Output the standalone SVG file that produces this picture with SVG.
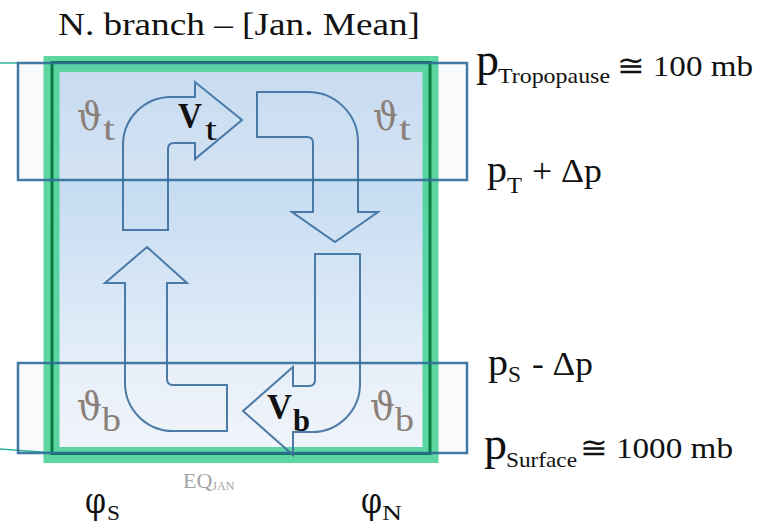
<svg xmlns="http://www.w3.org/2000/svg" width="758" height="526" viewBox="0 0 758 526">
<defs>
<linearGradient id="bg" x1="0" y1="72" x2="0" y2="447" gradientUnits="userSpaceOnUse">
<stop offset="0" stop-color="#b4d1ee"/>
<stop offset="1" stop-color="#f1f6fc"/>
</linearGradient>
</defs>
<style>
text{font-family:"Liberation Serif","DejaVu Serif",serif;}
.gr{font-family:"DejaVu Serif","Liberation Serif",serif;}
.lat{font-family:"Liberation Serif","DejaVu Serif",serif;}
.blk{fill:#111111;}
.th{fill:#8a8079;}
.arrow{fill:none;stroke:#3b6e9f;stroke-width:2;stroke-opacity:0.9;stroke-linejoin:miter;}
.boxfill{fill:#eef0f5;fill-opacity:0.35;stroke:none;}
.box{fill:none;stroke:#2f6b99;stroke-width:2.5;stroke-opacity:0.9;}
.lead{fill:none;stroke:#2fb59c;stroke-width:1.5;}
</style>
<rect width="758" height="526" fill="#ffffff"/>
<text x="239" y="35" text-anchor="middle" font-size="31" class="blk" textLength="362" lengthAdjust="spacingAndGlyphs">N. branch – [Jan. Mean]</text>
<g id="cell">
<rect x="52" y="64" width="378" height="391" fill="url(#bg)"/>
<rect x="18" y="63" width="449" height="117" class="boxfill"/>
<rect x="18" y="363" width="449" height="90" class="boxfill"/>
<rect x="51.5" y="64" width="379" height="391" fill="none" stroke="#4fd39a" stroke-width="16" stroke-opacity="0.92"/>
<rect x="52" y="62.5" width="378" height="391" fill="none" stroke="#0b7a40" stroke-width="3"/>
</g>
<g id="connectors">
<line class="lead" x1="0" y1="63" x2="18" y2="63"/>
<line class="lead" x1="0" y1="449" x2="55" y2="453"/>
</g>
<g id="box-top"><rect class="box" x="18" y="63" width="449" height="117"/></g>
<g id="box-bottom"><rect class="box" x="18" y="363" width="449" height="90"/></g>
<g id="arrow-up-right"><path class="arrow" d="M123 230 L123 145 A48 48 0 0 1 171 97 L195 97 L195 82 L242 120 L195 159 L195 143 L174 143 Q168 143 168 149 L168 230 Z"/></g>
<g id="arrow-right-down"><path class="arrow" d="M257 92 L308 92 A50 50 0 0 1 358 142 L358 212 L378 212 L335 242 L292 212 L313 212 L313 143 Q313 137 307 137 L257 137 Z"/></g>
<g id="arrow-up"><path class="arrow" d="M147 247 L187 283 L167 283 L167 379 Q167 385 173 385 L227 385 L227 431 L173 431 A48 48 0 0 1 125 383 L125 283 L105 283 Z"/></g>
<g id="arrow-down-left"><path class="arrow" d="M315 254 L360 254 L360 384 A48 48 0 0 1 312 432 L293 432 L293 455 L243 411 L293 367 L293 386 L309 386 Q315 386 315 380 Z"/></g>
<g id="labels-theta" class="th">
<text x="77" y="130"><tspan class="gr" font-size="40" textLength="25" lengthAdjust="spacingAndGlyphs">ϑ</tspan><tspan class="lat" font-size="34" dx="1" dy="10" textLength="12" lengthAdjust="spacingAndGlyphs">t</tspan></text>
<text x="373" y="130"><tspan class="gr" font-size="40" textLength="25" lengthAdjust="spacingAndGlyphs">ϑ</tspan><tspan class="lat" font-size="34" dx="1" dy="10" textLength="12" lengthAdjust="spacingAndGlyphs">t</tspan></text>
<text x="77" y="420"><tspan class="gr" font-size="40" textLength="25" lengthAdjust="spacingAndGlyphs">ϑ</tspan><tspan class="lat" font-size="34" dx="0" dy="11" textLength="19" lengthAdjust="spacingAndGlyphs">b</tspan></text>
<text x="370" y="420"><tspan class="gr" font-size="40" textLength="25" lengthAdjust="spacingAndGlyphs">ϑ</tspan><tspan class="lat" font-size="34" dx="0" dy="11" textLength="19" lengthAdjust="spacingAndGlyphs">b</tspan></text>
</g>
<g id="label-vt">
<text x="178" y="128" class="blk"><tspan font-size="36" font-weight="bold" textLength="24" lengthAdjust="spacingAndGlyphs">V</tspan><tspan font-size="32" dx="3" dy="12" textLength="12" lengthAdjust="spacingAndGlyphs">t</tspan></text>
</g>
<g id="label-vb">
<text x="267" y="419" class="blk" font-weight="bold"><tspan font-size="36" textLength="25" lengthAdjust="spacingAndGlyphs">V</tspan><tspan font-size="32" dx="1" dy="12" textLength="17" lengthAdjust="spacingAndGlyphs">b</tspan></text>
</g>
<g id="labels-pressure" class="blk">
<text x="476" y="75"><tspan font-size="46">p</tspan><tspan x="498" y="83" font-size="22" textLength="112" lengthAdjust="spacingAndGlyphs">Tropopause</tspan><tspan x="617" y="76" font-size="30" textLength="136" lengthAdjust="spacingAndGlyphs">≅ 100 mb</tspan></text>
<text x="487" y="182"><tspan font-size="38" textLength="20" lengthAdjust="spacingAndGlyphs">p</tspan><tspan x="507" y="193" font-size="24" textLength="15" lengthAdjust="spacingAndGlyphs">T</tspan><tspan x="532" y="182" font-size="34" textLength="70" lengthAdjust="spacingAndGlyphs">+ Δp</tspan></text>
<text x="488" y="375"><tspan font-size="38" textLength="20" lengthAdjust="spacingAndGlyphs">p</tspan><tspan x="508" y="382" font-size="24" textLength="13" lengthAdjust="spacingAndGlyphs">S</tspan><tspan x="532" y="375" font-size="34" textLength="61" lengthAdjust="spacingAndGlyphs">- Δp</tspan></text>
<text x="484" y="459"><tspan font-size="46">p</tspan><tspan x="506" y="467" font-size="22" textLength="71" lengthAdjust="spacingAndGlyphs">Surface</tspan><tspan x="580" y="458" font-size="30" textLength="153" lengthAdjust="spacingAndGlyphs">≅ 1000 mb</tspan></text>
</g>
<g id="labels-lat" class="blk">
<text x="85" y="513"><tspan class="gr" font-size="37" textLength="21" lengthAdjust="spacingAndGlyphs">φ</tspan><tspan x="107" y="520" font-size="22" textLength="13" lengthAdjust="spacingAndGlyphs">S</tspan></text>
<text x="361" y="513"><tspan class="gr" font-size="37" textLength="21" lengthAdjust="spacingAndGlyphs">φ</tspan><tspan x="382" y="520" font-size="22" textLength="20" lengthAdjust="spacingAndGlyphs">N</tspan></text>
<text x="183" y="488" font-size="22" fill="#a3a3a3">EQ<tspan font-size="12" dy="2">JAN</tspan></text>
</g>
</svg>
